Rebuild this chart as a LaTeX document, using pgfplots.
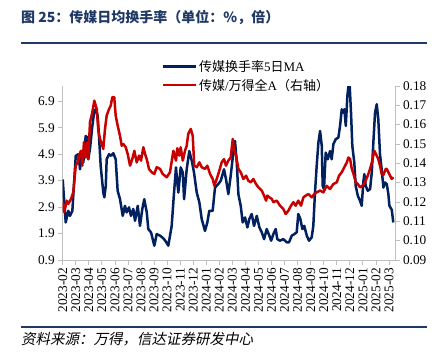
\documentclass[border=0pt]{standalone}
\usepackage{pgfplots}
\usepackage{pgfplotstable}
\pgfplotsset{compat=1.18}
\usepackage{fontspec}
\setmainfont{Liberation Serif}
\newfontfamily\cjk{Noto Sans CJK SC}
\newfontfamily\cjkslant{Noto Sans CJK SC}[FakeSlant=0.2]
\definecolor{navy}{RGB}{0,32,96}
\definecolor{myred}{RGB}{200,0,0}
\definecolor{titleblue}{RGB}{31,56,100}
\definecolor{axisgray}{RGB}{191,191,191}
\pgfplotstableread{
x y
0.00 3.95
0.23 2.32
0.43 2.76
0.56 2.57
0.74 2.76
0.81 3.33
1.00 4.84
1.20 4.90
1.33 4.33
1.46 5.02
1.58 4.59
1.76 5.59
1.89 5.53
1.96 4.71
2.09 5.10
2.27 5.97
2.42 6.53
2.53 6.60
2.68 6.35
2.78 5.59
2.91 4.46
3.11 3.45
3.19 3.27
3.30 3.70
3.37 4.71
3.55 4.90
3.70 4.84
3.88 4.94
4.06 4.71
4.21 3.52
4.39 3.20
4.60 2.57
4.77 2.95
4.90 2.70
5.08 2.89
5.23 2.57
5.41 2.83
5.54 2.38
5.75 2.95
5.92 2.19
6.10 2.83
6.25 3.20
6.44 2.70
6.56 2.07
6.77 1.94
7.02 1.44
7.20 1.88
7.46 1.82
7.71 1.72
7.90 1.60
8.09 1.44
8.35 2.19
8.53 3.45
8.68 4.40
8.78 3.83
8.86 3.45
9.04 4.40
9.20 4.21
9.30 3.20
9.50 4.33
9.70 5.02
9.89 4.65
10.06 4.21
10.27 3.45
10.47 3.08
10.65 2.45
10.90 2.00
11.08 2.32
11.23 2.76
11.49 2.76
11.67 3.64
11.92 3.77
12.11 3.90
12.36 4.33
12.51 3.96
12.69 3.39
12.87 4.08
13.07 4.96
13.20 5.40
13.33 4.65
13.46 3.39
13.64 2.95
13.79 2.32
13.97 2.51
14.15 2.13
14.30 2.45
14.48 2.64
14.66 2.19
14.87 2.57
15.07 2.13
15.25 1.95
15.43 1.69
15.63 2.07
15.81 1.85
15.97 1.63
16.14 1.88
16.32 2.07
16.44 1.69
16.65 1.63
16.90 1.69
17.16 1.57
17.34 1.57
17.55 1.82
17.75 1.88
17.93 1.95
18.05 2.64
18.21 2.45
18.36 2.07
18.51 2.19
18.70 1.82
18.87 1.63
19.08 1.76
19.20 2.19
19.33 3.45
19.46 4.46
19.59 5.34
19.72 5.78
19.85 5.21
19.92 3.70
20.02 3.58
20.15 4.96
20.31 4.71
20.48 5.02
20.61 4.71
20.74 5.28
20.92 5.47
21.12 5.53
21.25 5.97
21.38 6.60
21.50 6.47
21.58 6.60
21.69 5.97
21.81 7.10
21.89 7.48
21.99 7.48
22.09 6.47
22.19 5.21
22.34 4.59
22.45 3.70
22.61 3.33
22.78 3.14
22.91 2.95
23.03 3.83
23.11 4.15
23.22 3.70
23.37 3.52
23.55 3.58
23.68 4.21
23.80 5.34
23.93 6.47
24.06 6.79
24.18 6.22
24.31 4.90
24.44 4.33
24.57 3.64
24.70 3.83
24.83 3.77
24.95 3.40
25.03 2.95
25.21 2.80
25.33 2.32
}\bluedata
\pgfplotstableread{
x y
0.00 0.1199
0.12 0.1147
0.31 0.1207
0.43 0.1190
0.64 0.1216
0.81 0.1250
1.00 0.1388
1.15 0.1405
1.25 0.1440
1.40 0.1465
1.50 0.1388
1.63 0.1509
1.76 0.1430
1.89 0.1509
1.96 0.1422
2.09 0.1612
2.27 0.1664
2.42 0.1724
2.61 0.1681
2.73 0.1569
2.86 0.1526
2.99 0.1500
3.11 0.1474
3.24 0.1578
3.37 0.1647
3.55 0.1681
3.68 0.1698
3.80 0.1742
3.95 0.1742
4.06 0.1647
4.21 0.1595
4.39 0.1543
4.52 0.1491
4.64 0.1500
4.83 0.1483
4.98 0.1448
5.16 0.1388
5.33 0.1422
5.49 0.1465
5.67 0.1405
5.85 0.1440
6.00 0.1414
6.18 0.1483
6.31 0.1448
6.44 0.1422
6.61 0.1371
6.82 0.1354
7.02 0.1345
7.20 0.1380
7.46 0.1371
7.66 0.1345
7.97 0.1328
8.22 0.1354
8.48 0.1465
8.68 0.1414
8.78 0.1478
8.93 0.1440
9.04 0.1483
9.20 0.1414
9.37 0.1465
9.50 0.1491
9.62 0.1552
9.81 0.1578
9.96 0.1543
10.08 0.1388
10.27 0.1380
10.47 0.1405
10.65 0.1380
10.90 0.1371
11.08 0.1388
11.29 0.1345
11.49 0.1319
11.62 0.1284
11.80 0.1319
12.00 0.1362
12.18 0.1405
12.36 0.1422
12.51 0.1388
12.69 0.1414
12.87 0.1430
13.03 0.1526
13.13 0.1474
13.28 0.1440
13.46 0.1371
13.64 0.1354
13.84 0.1319
14.05 0.1336
14.22 0.1310
14.41 0.1302
14.61 0.1319
14.81 0.1293
14.99 0.1276
15.25 0.1259
15.43 0.1233
15.58 0.1207
15.68 0.1233
15.83 0.1224
16.02 0.1216
16.14 0.1199
16.40 0.1207
16.65 0.1181
16.90 0.1164
17.09 0.1138
17.29 0.1155
17.49 0.1181
17.67 0.1199
17.85 0.1181
18.05 0.1207
18.26 0.1181
18.44 0.1224
18.62 0.1233
18.82 0.1241
19.08 0.1224
19.28 0.1241
19.46 0.1250
19.72 0.1259
19.97 0.1250
20.23 0.1284
20.48 0.1267
20.74 0.1293
21.00 0.1302
21.17 0.1336
21.38 0.1354
21.58 0.1380
21.77 0.1405
21.89 0.1430
22.02 0.1422
22.15 0.1371
22.28 0.1345
22.45 0.1302
22.61 0.1293
22.78 0.1276
22.96 0.1284
23.16 0.1302
23.37 0.1336
23.55 0.1371
23.72 0.1414
23.87 0.1465
24.00 0.1448
24.18 0.1422
24.31 0.1388
24.44 0.1345
24.57 0.1340
24.75 0.1371
24.83 0.1371
24.95 0.1354
25.21 0.1319
25.33 0.1328
}\reddata
\begin{document}
\begin{tikzpicture}
\path[use as bounding box] (0pt,0pt) rectangle (443pt,-358pt);
\node[anchor=west, text=titleblue, font=\cjk\bfseries\fontsize{14}{16}\selectfont, inner sep=0pt] at (21pt,-17pt) {图 25：传媒日均换手率（单位：\%，倍）};
\draw[titleblue, line width=1.5pt] (21pt,-43pt) -- (427pt,-43pt);
\draw[titleblue, line width=1.5pt] (21pt,-327pt) -- (427pt,-327pt);
\node[anchor=west, font=\cjkslant\fontsize{14.5}{16}\selectfont, inner sep=0pt] at (21pt,-339pt) {资料来源：万得，信达证券研发中心};
\pgfplotsset{
  mybase/.style={
    at={(62.7pt,-260pt)}, anchor=south west, scale only axis,
    width=332.3pt, height=174pt,
    xmin=0, xmax=25.46,
    axis line style={-, axisgray, line width=0.8pt},
    tick style={axisgray, line width=0.8pt},
    major tick length=4.5pt,
    tick align=outside,
    tick label style={font=\fontsize{13.3}{14}\selectfont, text=black},
  }
}
\begin{axis}[mybase,
  ymin=0.9, ymax=7.48,
  axis y line*=left, axis x line*=bottom,
  ytick={0.9,1.9,2.9,3.9,4.9,5.9,6.9},
  yticklabels={0.9,1.9,2.9,3.9,4.9,5.9,6.9},
  xtick={0,1,...,25},
  xticklabels={2023-02,2023-03,2023-04,2023-05,2023-06,2023-07,2023-08,2023-09,2023-10,2023-11,2023-12,2024-01,2024-02,2024-03,2024-04,2024-05,2024-06,2024-07,2024-08,2024-09,2024-10,2024-11,2024-12,2025-01,2025-02,2025-03},
  xticklabel style={rotate=90, anchor=east},
]
\addplot[navy, line width=2.5pt, line join=round, no markers] table {\bluedata};
\end{axis}
\begin{axis}[mybase,
  ymin=0.09, ymax=0.18,
  axis y line*=right, axis x line=none,
  ytick={0.09,0.10,0.11,0.12,0.13,0.14,0.15,0.16,0.17,0.18},
  yticklabels={0.09,0.10,0.11,0.12,0.13,0.14,0.15,0.16,0.17,0.18},
  legend style={at={(0.297,1.16)}, anchor=north west, draw=none, fill=none,
    font=\fontsize{13}{14}\selectfont, inner sep=0pt, row sep=2pt},
  legend cell align=left,
  legend image code/.code={\draw[#1] (0pt,0pt) -- (33pt,0pt);},
]
\addlegendimage{navy, line width=2.5pt}
\addlegendentry{{\cjk 传媒换手率}5{\cjk 日}MA}
\addplot[myred, line width=2.5pt, line join=round, no markers] table {\reddata};
\addlegendentry{{\cjk 传媒}/{\cjk 万得全}A{\cjk （右轴）}}
\end{axis}
\end{tikzpicture}
\end{document}
